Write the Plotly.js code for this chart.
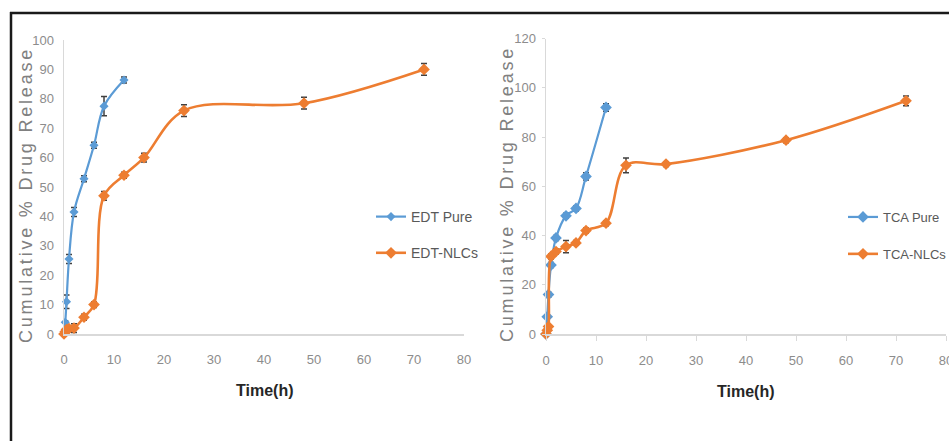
<!DOCTYPE html>
<html>
<head>
<meta charset="utf-8">
<script src="https://cdn.plot.ly/plotly-3.0.1.min.js"></script>
<style>html,body{margin:0;padding:0;background:#fff;}#chart{width:949px;height:441px;}</style>
</head>
<body>
<div id="chart"></div>
<script>
// ---- Data ----
const edtTime      = [0, 0.25, 0.5, 1, 2, 4, 6, 8, 12];
const edtPure      = [0, 4, 11, 25.5, 41.5, 52.8, 64.2, 77.5, 86.4];
const edtPureErr   = [0, 0.5, 2.3, 1.5, 1.5, 1, 1, 3.3, 1];

const edtNlcTime   = [0, 0.25, 0.5, 1, 2, 4, 6, 8, 12, 16, 24, 48, 72];
const edtNlc       = [0, 0.8, 1.5, 1.8, 2, 5.7, 10, 47, 54, 60, 76, 78.5, 90];
const edtNlcErr    = [0, 0.5, 0.5, 1, 1.5, 1, 1, 1.5, 1, 1.5, 2, 2, 2];

const tcaTime      = [0, 0.25, 0.5, 1, 2, 4, 6, 8, 12];
const tcaPure      = [0, 7, 16, 28, 39, 48, 51, 64, 92];
const tcaPureErr   = [0, 0.5, 1, 1, 1, 1, 1, 1.5, 1.5];

const tcaNlcTime   = [0, 0.25, 0.5, 1, 2, 4, 6, 8, 12, 16, 24, 48, 72];
const tcaNlc       = [0, 1.5, 3, 31.5, 33.5, 35.5, 37, 42, 45, 68.5, 69, 78.7, 94.7];
const tcaNlcErr    = [0, 0.5, 0.5, 1, 1, 2.5, 1, 1, 1, 3, 1, 1, 2];

const xTickVals    = [0, 10, 20, 30, 40, 50, 60, 70, 80];
const yTickValsL   = [0, 10, 20, 30, 40, 50, 60, 70, 80, 90, 100];
const yTickValsR   = [0, 20, 40, 60, 80, 100, 120];

const seriesNames  = ['EDT Pure', 'EDT-NLCs', 'TCA Pure', 'TCA-NLCs'];
const xTitle       = 'Time(h)';
const yTitle       = 'Cumulative % Drug Release';

// ---- Styles ----
const BLUE = '#5B9BD5', ORANGE = '#ED7D31', ERR = '#404040';
const SANS = '"Liberation Sans", Arial, sans-serif';
const W = 949, H = 441;
const px = v => v / W, py = v => 1 - v / H;

function trace(x, y, err, name, color, xa, ya, lg, grp, msize, lw) {
  return {
    x: x, y: y, name: name, type: 'scatter', mode: 'lines+markers',
    xaxis: xa, yaxis: ya, legend: lg, legendgroup: grp, cliponaxis: false,
    line: {color: color, width: lw, shape: 'spline', smoothing: 1},
    marker: {symbol: 'diamond', size: msize, color: color},
    error_y: {type: 'data', array: err, visible: true, color: ERR, thickness: 1.5, width: 3}
  };
}

const data = [
  trace(edtTime, edtPure, edtPureErr, seriesNames[0], BLUE, 'x', 'y', 'legend', 'a', 7, 2.2),
  trace(edtNlcTime, edtNlc, edtNlcErr, seriesNames[1], ORANGE, 'x', 'y', 'legend', 'b', 9, 2.6),
  trace(tcaTime, tcaPure, tcaPureErr, seriesNames[2], BLUE, 'x2', 'y2', 'legend2', 'c', 9, 2.2),
  trace(tcaNlcTime, tcaNlc, tcaNlcErr, seriesNames[3], ORANGE, 'x2', 'y2', 'legend2', 'd', 9, 2.6)
];

const tickFont = {family: SANS, size: 13, color: '#8c8c8c'};
const axLine = {showline: true, linecolor: '#D9D9D9', linewidth: 1.5, showgrid: false, zeroline: false, automargin: false, fixedrange: true};

const legendBase = {
  xanchor: 'left', yanchor: 'top', bgcolor: 'rgba(0,0,0,0)', borderwidth: 0,
  tracegroupgap: 15, itemclick: false
};

const titleAnn = (x, y, text, angle, font) => ({
  xref: 'paper', yref: 'paper', x: x, y: y, xanchor: 'center', yanchor: 'middle',
  text: text, textangle: angle, showarrow: false, font: font
});

const yTitleFont = {family: SANS, size: 18, color: '#808080'};
const xTitleFont = {family: SANS, size: 16, color: '#262626', weight: 'bold'};
const yTitleText = '<span style="letter-spacing:2.8px">' + yTitle + '</span>';

const layout = {
  width: W, height: H,
  margin: {l: 0, r: 0, t: 0, b: 0, autoexpand: false},
  paper_bgcolor: '#ffffff', plot_bgcolor: 'rgba(0,0,0,0)',
  showlegend: true,
  xaxis: Object.assign({}, axLine, {domain: [px(64), px(464)], range: [0, 80], tickvals: xTickVals, ticks: '', tickfont: tickFont, ticklabelstandoff: 13, anchor: 'y'}),
  yaxis: Object.assign({}, axLine, {domain: [1 - 334 / H, 1 - 40 / H], range: [0, 100], tickvals: yTickValsL, ticks: '', tickfont: tickFont, ticklabelstandoff: 6, anchor: 'x'}),
  xaxis2: Object.assign({}, axLine, {domain: [px(546), px(946)], range: [0, 80], tickvals: xTickVals, ticks: 'outside', ticklen: 5, tickwidth: 1, tickcolor: '#D9D9D9', tickfont: tickFont, ticklabelstandoff: 9, ticklabeloverflow: 'allow', anchor: 'y2'}),
  yaxis2: Object.assign({}, axLine, {domain: [1 - 334 / H, 1 - 38.5 / H], range: [0, 120], tickvals: yTickValsR, ticks: 'outside', ticklen: 3, tickwidth: 1, tickcolor: '#D9D9D9', tickfont: tickFont, ticklabelstandoff: 3, anchor: 'x2'}),
  legend: Object.assign({}, legendBase, {x: px(371), y: py(201), font: {family: SANS, size: 14, color: '#595959'}}),
  legend2: Object.assign({}, legendBase, {x: px(843), y: py(202), font: {family: SANS, size: 13, color: '#595959'}, tracegroupgap: 17}),
  annotations: [
    titleAnn(px(26), py(195), yTitleText, -90, yTitleFont),
    titleAnn(px(507), py(194), yTitleText, -90, yTitleFont),
    titleAnn(px(264), py(390), xTitle, 0, xTitleFont),
    titleAnn(px(745), py(391), xTitle, 0, xTitleFont)
  ],
  shapes: [
    {type: 'line', xref: 'paper', yref: 'paper', x0: px(10), x1: 1, y0: py(13), y1: py(13), line: {color: '#1a1a1a', width: 2.5}},
    {type: 'line', xref: 'paper', yref: 'paper', x0: px(11), x1: px(11), y0: py(12), y1: 0, line: {color: '#1a1a1a', width: 2.5}}
  ]
};

Plotly.newPlot('chart', data, layout, {displayModeBar: false, staticPlot: true});
</script>
</body>
</html>
